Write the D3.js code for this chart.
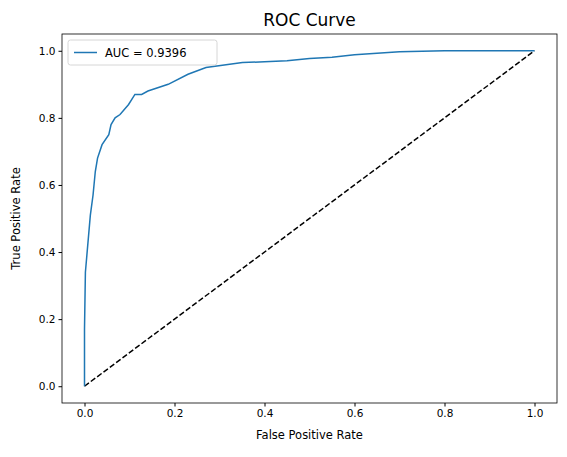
<!DOCTYPE html>
<html><head><meta charset="utf-8">
<script src="https://cdn.jsdelivr.net/npm/d3@7"></script>
<style>body{margin:0;background:#fff}text{font-family:"DejaVu Sans",sans-serif}</style>
</head><body><svg id="c" width="567" height="457"></svg>
<script>
var fpr = [0,0,0.002,0.013,0.019,0.024,0.029,0.039,0.054,0.059,0.068,0.079,0.098,0.112,0.127,0.141,0.186,0.23,0.27,0.351,0.4,0.45,0.5,0.55,0.6,0.7,0.8,0.9,1];
var tpr = [0,0.17,0.34,0.51,0.57,0.64,0.68,0.72,0.75,0.78,0.8,0.81,0.84,0.87,0.87,0.88,0.9,0.93,0.95,0.965,0.967,0.97,0.977,0.981,0.988,0.997,1,1,1];
var ticks = [0,0.2,0.4,0.6,0.8,1.0];

var svg = d3.select("#c");
var L = 62, R = 557, T = 34, B = 403;
var x = d3.scaleLinear().domain([-0.05,1.05]).range([L,R]);
var y = d3.scaleLinear().domain([-0.05,1.05]).range([B,T]);

svg.append("g").attr("transform","translate(0,"+B+")")
  .call(d3.axisBottom(x).tickValues(ticks).tickFormat(d3.format(".1f")).tickSize(3.5).tickSizeOuter(0))
  .call(g=>g.selectAll("text").attr("font-size",10.5).attr("fill","#000"));
svg.append("g").attr("transform","translate("+L+",0)")
  .call(d3.axisLeft(y).tickValues(ticks).tickFormat(d3.format(".1f")).tickSize(3.5).tickSizeOuter(0))
  .call(g=>g.selectAll("text").attr("font-size",10.5).attr("fill","#000"));
svg.selectAll(".domain").remove();
svg.append("rect").attr("x",L).attr("y",T).attr("width",R-L).attr("height",B-T)
  .attr("fill","none").attr("stroke","#000").attr("stroke-width",0.8);

svg.append("line").attr("x1",x(0)).attr("y1",y(0)).attr("x2",x(1)).attr("y2",y(1))
  .attr("stroke","#000").attr("stroke-width",1.5).attr("stroke-dasharray","5.5,2.4");
var line = d3.line().x((d,i)=>x(fpr[i])).y((d,i)=>y(tpr[i]));
svg.append("path").attr("d",line(fpr)).attr("fill","none").attr("stroke","#1f77b4").attr("stroke-width",1.5);

svg.append("text").attr("x",(L+R)/2).attr("y",26).attr("text-anchor","middle").attr("font-size",17).text("ROC Curve");
svg.append("text").attr("x",(L+R)/2).attr("y",439).attr("text-anchor","middle").attr("font-size",11.5).text("False Positive Rate");
svg.append("text").attr("transform","translate(20,"+((T+B)/2)+") rotate(-90)").attr("text-anchor","middle").attr("font-size",11.5).text("True Positive Rate");

var lg = svg.append("g").attr("transform","translate(68,40)");
lg.append("rect").attr("width",149).attr("height",25).attr("rx",2.5).attr("fill","#fff").attr("stroke","#ccc").attr("stroke-width",0.8);
lg.append("line").attr("x1",6).attr("x2",29).attr("y1",12.5).attr("y2",12.5).attr("stroke","#1f77b4").attr("stroke-width",1.5);
lg.append("text").attr("x",37).attr("y",16.5).attr("font-size",11.5).text("AUC = 0.9396");
</script></body></html>
